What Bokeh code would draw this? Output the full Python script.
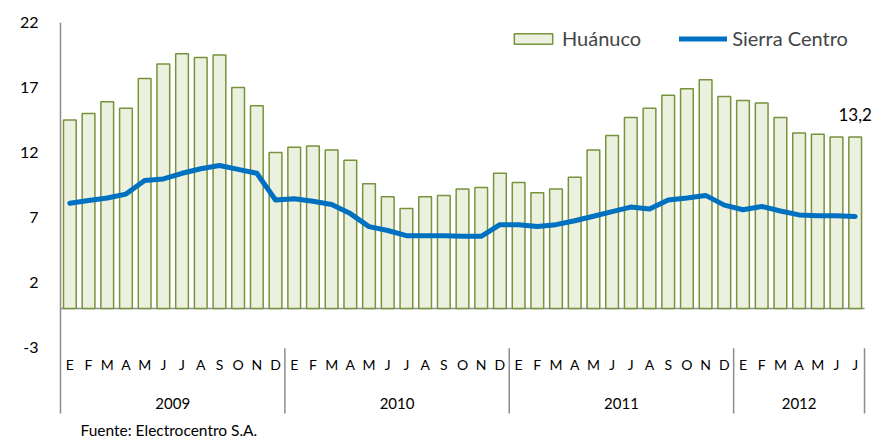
from bokeh.plotting import figure
from bokeh.models import Range1d, FixedTicker, Legend, LegendItem
from bokeh.core.properties import value
from bokeh.embed import file_html
from bokeh.resources import INLINE

months = ["E", "F", "M", "A", "M", "J", "J", "A", "S", "O", "N", "D"]
years = ["2009", "2010", "2011", "2012"]
months_per_year = [12, 12, 12, 7]
huanuco = [14.5, 15.0, 15.9, 15.4, 17.7, 18.8, 19.6, 19.3, 19.5, 17.0, 15.6, 12.0,
           12.4, 12.5, 12.2, 11.4, 9.6, 8.6, 7.7, 8.6, 8.7, 9.2, 9.3, 10.4,
           9.7, 8.9, 9.2, 10.1, 12.2, 13.3, 14.7, 15.4, 16.4, 16.9, 17.6, 16.3,
           16.0, 15.8, 14.7, 13.5, 13.4, 13.2, 13.2]
sierra = [8.1, 8.3, 8.5, 8.8, 9.85, 9.97, 10.4, 10.75, 11.0, 10.7, 10.4, 8.35,
          8.45, 8.25, 8.0, 7.3, 6.3, 6.0, 5.6, 5.6, 5.6, 5.55, 5.55, 6.45,
          6.45, 6.3, 6.45, 6.75, 7.1, 7.45, 7.8, 7.65, 8.35, 8.5, 8.7, 7.95,
          7.6, 7.85, 7.5, 7.2, 7.13, 7.13, 7.08]
y_ticks = [-3, 2, 7, 12, 17, 22]
last_label = "13,2"
source_note = "Fuente: Electrocentro S.A."

FONT = "Lato"
AXIS_GRAY = "#8c8c8c"
n = len(huanuco)
xs = [i + 0.5 for i in range(n)]
month_labels = [months[i % 12] for i in range(n)]

Y_BOTTOM = -8.08   # bottom of the category-label area
p = figure(width=876, height=441, output_backend="svg", toolbar_location=None,
           x_range=Range1d(-0.107, n + 0.64), y_range=Range1d(-10.0, 22),
           min_border_left=58, min_border_right=0, min_border_top=22, min_border_bottom=3)
p.xaxis.visible = False
p.grid.visible = False
p.outline_line_color = None

yax = p.yaxis[0]
yax.ticker = FixedTicker(ticks=y_ticks)
yax.major_label_overrides = {t: str(t) for t in y_ticks}
yax.major_tick_out = 0
yax.major_tick_in = 0
yax.minor_tick_out = 0
yax.minor_tick_in = 0
yax.axis_line_color = None
yax.major_label_standoff = 20
yax.major_label_text_font = FONT
yax.major_label_text_font_size = "16px"
yax.major_label_text_color = "#000000"

# value axis line (extends through the category label area)
p.segment(x0=[0], y0=[Y_BOTTOM], x1=[0], y1=[y_ticks[-1]], line_color=AXIS_GRAY, line_width=1.5)
# category axis at zero
p.segment(x0=[0], y0=[0], x1=[n], y1=[0], line_color=AXIS_GRAY, line_width=1.5)

bars = p.vbar(x=xs, top=huanuco, bottom=0, width=0.68, fill_color="#EBF1DE",
              line_color="#77933C", line_width=1.5)
line = p.line(x=xs, y=sierra, line_color="#0070C0", line_width=5,
              line_join="round", line_cap="round")

# month labels
p.text(x=xs, y=[-4.3] * n, text=month_labels, text_font=value(FONT),
       text_font_size="14px", text_align="center", text_baseline="middle", text_color="#000000")

# year labels and separators
start = 0
yx, sep = [], []
for cnt in months_per_year:
    yx.append(start + cnt / 2)
    start += cnt
    sep.append(start)
p.text(x=yx, y=[-7.3] * len(years), text=years, text_font=value(FONT),
       text_font_size="15px", text_align="center", text_baseline="middle", text_color="#000000")
p.segment(x0=sep, y0=[-3.05] * len(sep), x1=sep, y1=[Y_BOTTOM] * len(sep),
          line_color=AXIS_GRAY, line_width=1.5)

p.text(x=[xs[-1]], y=[huanuco[-1]], text=[last_label], text_font=value(FONT),
       text_font_size="17px", text_align="center", text_baseline="bottom",
       y_offset=-16, text_color="#000000")

p.text(x=[1.07], y=[-9.35], text=[source_note], text_font=value(FONT),
       text_font_size="15.5px", text_align="left", text_baseline="middle", text_color="#000000")

legend = Legend(items=[LegendItem(label="Huánuco", renderers=[bars]),
                       LegendItem(label="Sierra Centro", renderers=[line])],
                location=(451, 388), orientation="horizontal",
                glyph_width=48, glyph_height=13, label_standoff=5, spacing=38,
                label_text_font=FONT, label_text_font_size="20px",
                border_line_color=None, background_fill_alpha=0,
                padding=4, margin=0)
p.add_layout(legend)

open("out.html", "w").write(file_html(p, INLINE))
